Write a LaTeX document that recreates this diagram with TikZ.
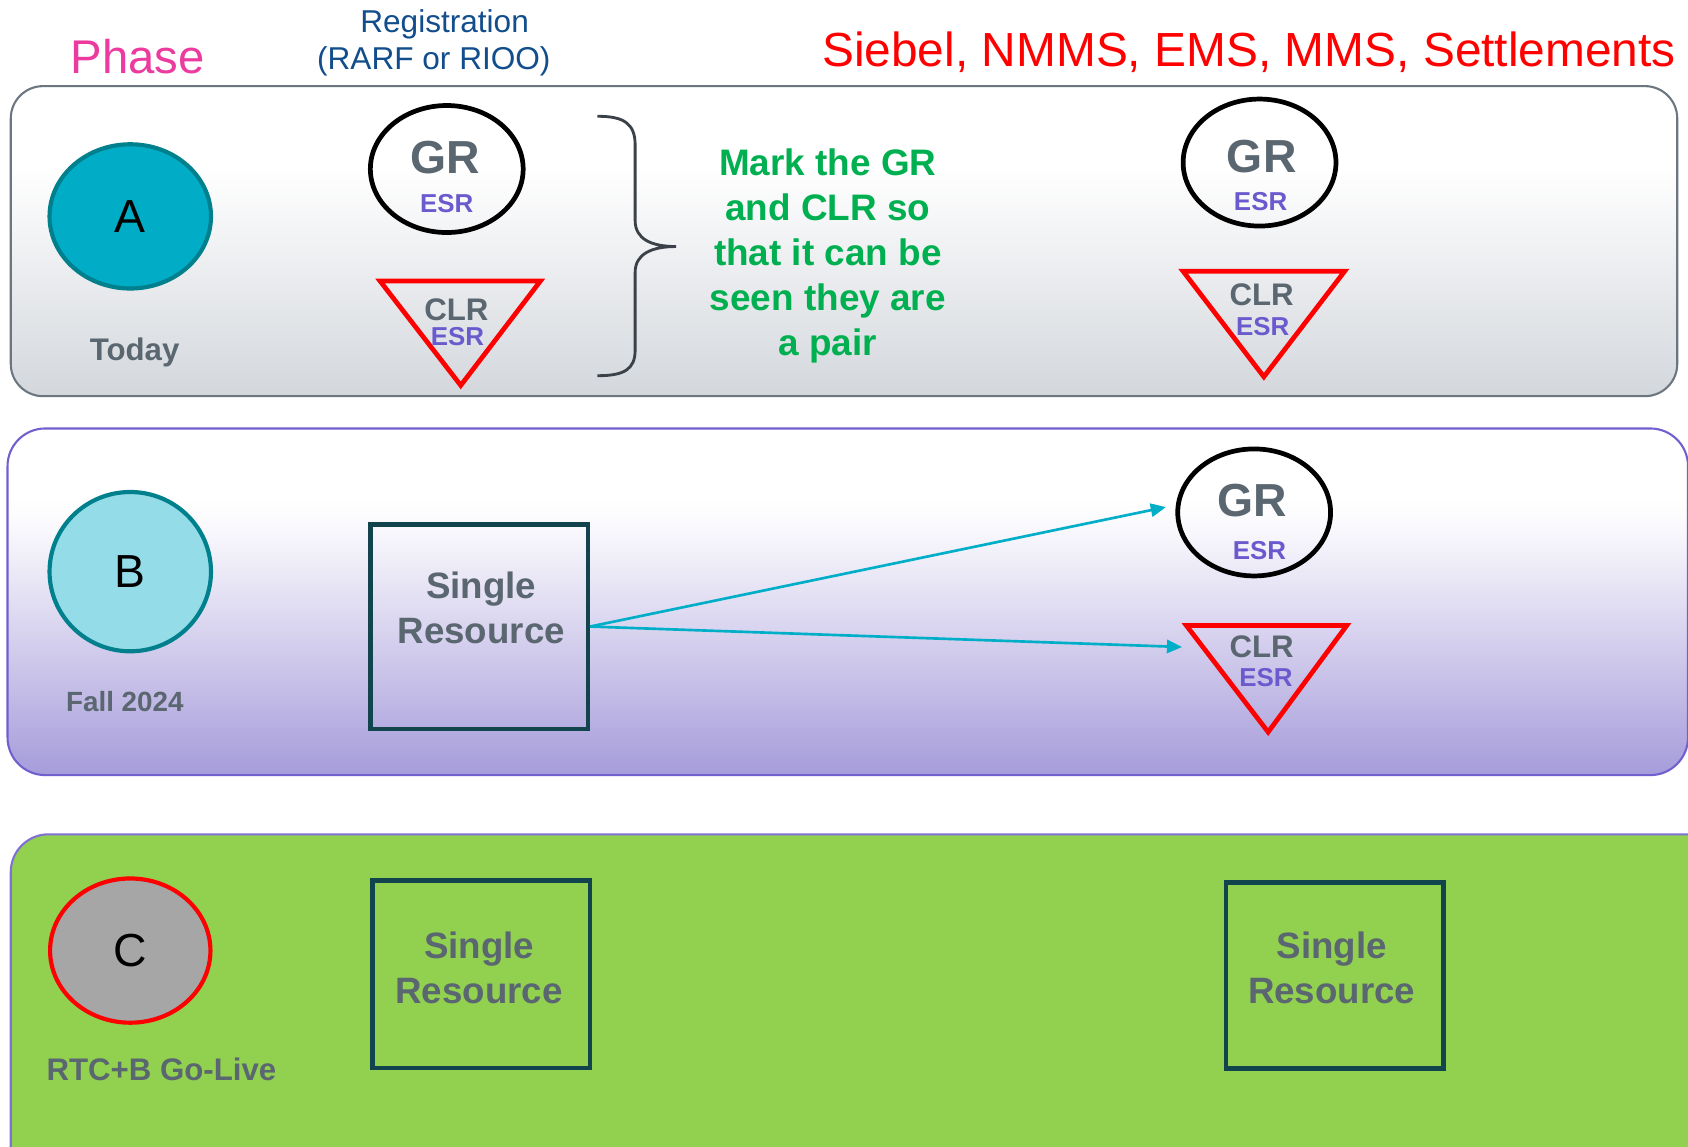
\documentclass[tikz,border=0pt]{standalone}
\usepackage{fontspec}
\setmainfont{Liberation Sans}
\usetikzlibrary{shapes.geometric,arrows.meta}
\definecolor{phasePink}{HTML}{EC3A9E}
\definecolor{regBlue}{HTML}{124D8C}
\definecolor{labGray}{HTML}{5A6670}
\definecolor{esrPurple}{HTML}{6A5ACD}
\definecolor{noteGreen}{HTML}{00B050}
\definecolor{aFill}{HTML}{00ACC6}
\definecolor{tealBorder}{HTML}{007F8C}
\definecolor{bFill}{HTML}{93DCE8}
\definecolor{cFill}{HTML}{A6A6A6}
\definecolor{boxTeal}{HTML}{12444E}
\definecolor{arrCyan}{HTML}{00AEC8}
\definecolor{aBorder}{HTML}{6C7680}
\definecolor{bBorder}{HTML}{6F5FCF}
\definecolor{cBorder}{HTML}{8070D6}
\definecolor{cPanel}{HTML}{92D050}
\definecolor{braceCol}{HTML}{3B4149}
\definecolor{aBot}{HTML}{D3D7DC}
\definecolor{aMid}{HTML}{F1F2F4}
\definecolor{bBot}{HTML}{A59CDB}
\definecolor{bLow}{HTML}{C3BCE6}
\definecolor{bMid}{HTML}{E2DEF3}
\definecolor{bHigh}{HTML}{F8F7FC}
\pgfdeclareverticalshading{panelAshade}{100bp}{color(0bp)=(aBot); color(25bp)=(aBot); color(50bp)=(aMid); color(62bp)=(white); color(100bp)=(white)}
\pgfdeclareverticalshading{panelBshade}{100bp}{color(0bp)=(bBot); color(25bp)=(bBot); color(37bp)=(bLow); color(50bp)=(bMid); color(60bp)=(bHigh); color(65bp)=(white); color(100bp)=(white)}
\begin{document}
\begin{tikzpicture}[x=0.02cm,y=-0.02cm,
  hdr/.style={inner sep=0, anchor=base},
  lettr/.style={ellipse, inner sep=0, line width=2.2pt, font=\fontsize{24.5}{29}\selectfont},
  phaselbl/.style={inner sep=0, text=labGray, font=\bfseries\fontsize{16.5}{20}\selectfont},
  grshape/.style={ellipse, draw=black, line width=2.5pt, minimum width=2.84cm, minimum height=2.36cm, inner sep=0},
  grtxt/.style={inner sep=0, text=labGray, font=\bfseries\fontsize{24.5}{29}\selectfont},
  esrtxt/.style={inner sep=0, text=esrPurple, font=\bfseries\fontsize{13.7}{16}\selectfont},
  clrtxt/.style={inner sep=0, text=labGray, font=\bfseries\fontsize{16.5}{20}\selectfont},
  tri/.style={draw=red, line width=2.5pt},
  srbox/.style={draw=boxTeal, line width=2.4pt, inner sep=0, minimum width=4.04cm},
  srtxt/.style={inner sep=0, text=labGray, align=center, font=\bfseries\fontsize{19.4}{23.9}\selectfont},
  arr/.style={draw=arrCyan, line width=1.4pt, -{Triangle[length=8pt,width=7pt]}}
]
\useasboundingbox (0,0) rectangle (1568,1065);
\clip (0,0) rectangle (1568,1065);

% panels
\shadedraw[shading=panelAshade, draw=aBorder, line width=1.1pt, rounded corners=0.6cm] (10,80) rectangle (1558,368);
\shadedraw[shading=panelBshade, draw=bBorder, line width=1.1pt, rounded corners=0.7cm] (7,398) rectangle (1568,720);
\filldraw[fill=cPanel, draw=cBorder, line width=1.1pt, rounded corners=0.7cm] (10,775) rectangle (1600,1120);

% header
\node[hdr, text=phasePink, font=\fontsize{25}{30}\selectfont] (phase) at (128,68) {Phase};
\node[hdr, text=regBlue, font=\fontsize{16.7}{20}\selectfont] (reg1) at (413,30) {Registration};
\node[hdr, text=regBlue, font=\fontsize{16.7}{20}\selectfont] (reg2) at (403,65) {(RARF or RIOO)};
\node[inner sep=0, anchor=base east, text=red, font=\fontsize{25.3}{30}\selectfont] (systems) at (1557,62) {Siebel, NMMS, EMS, MMS, Settlements};

% phase A
\node[lettr, fill=aFill, draw=tealBorder, minimum width=3cm, minimum height=2.68cm] (circA) at (121,201) {A};
\node[phaselbl] (today) at (125,327) {Today};
\node[grshape] (grA1) at (415,157) {};
\node[grtxt] (grA1t) at (414,146) {GR};
\node[esrtxt] (grA1e) at (415,189) {ESR};
\draw[tri] (353,261) -- (502,261) -- (428,358) -- cycle;
\node[clrtxt] (clrA1t) at (424,288) {CLR};
\node[esrtxt] (clrA1e) at (425,313) {ESR};
\draw[draw=braceCol, line width=1.5pt] (555,108) .. controls (580,108) and (590,115) .. (590,135) -- (590,205) .. controls (590,222) and (605,229) .. (628,229) .. controls (605,229) and (590,236) .. (590,253) -- (590,325) .. controls (590,343) and (580,349) .. (555,349);
\node[inner sep=0, align=center, text=noteGreen, font=\bfseries\fontsize{19.5}{23.8}\selectfont] (note) at (769,238) {Mark the GR\\and CLR so\\that it can be\\seen they are\\a pair};
\node[grshape] (grA2) at (1170,151) {};
\node[grtxt] (grA2t) at (1172,145) {GR};
\node[esrtxt] (grA2e) at (1171,187) {ESR};
\draw[tri] (1099,252) -- (1249,252) -- (1174,350) -- cycle;
\node[clrtxt] (clrA2t) at (1172,274) {CLR};
\node[esrtxt] (clrA2e) at (1173,303) {ESR};

% phase B
\node[lettr, fill=bFill, draw=tealBorder, minimum width=3cm, minimum height=2.96cm] (circB) at (121,531) {B};
\node[phaselbl, font=\bfseries\fontsize{14.7}{18}\selectfont] (fall) at (116,652) {Fall 2024};
\node[srbox, minimum height=3.8cm] (srB) at (445,582) {};
\node[srtxt] (srBt) at (447,565) {Single\\Resource};
\node[grshape] (grB) at (1165,476) {};
\node[grtxt] (grBt) at (1163,465) {GR};
\node[esrtxt] (grBe) at (1170,511) {ESR};
\draw[tri] (1102,581) -- (1251,581) -- (1178,680) -- cycle;
\node[clrtxt] (clrBt) at (1172,601) {CLR};
\node[esrtxt] (clrBe) at (1176,629) {ESR};
\coordinate (grBin) at (1083,471);
\coordinate (clrBin) at (1098,601);
\draw[arr] (srB.east) -- (grBin);
\draw[arr] (srB.east) -- (clrBin);

% phase C
\node[lettr, fill=cFill, draw=red, minimum width=2.98cm, minimum height=2.68cm] (circC) at (121,883) {C};
\node[phaselbl] (golive) at (150,993) {RTC+B Go-Live};
\node[srbox, minimum height=3.48cm] (srC1) at (447,905) {};
\node[srtxt] (srC1t) at (445,899) {Single\\Resource};
\node[srbox, minimum height=3.46cm] (srC2) at (1240,906) {};
\node[srtxt] (srC2t) at (1237,899) {Single\\Resource};
\end{tikzpicture}
\end{document}
